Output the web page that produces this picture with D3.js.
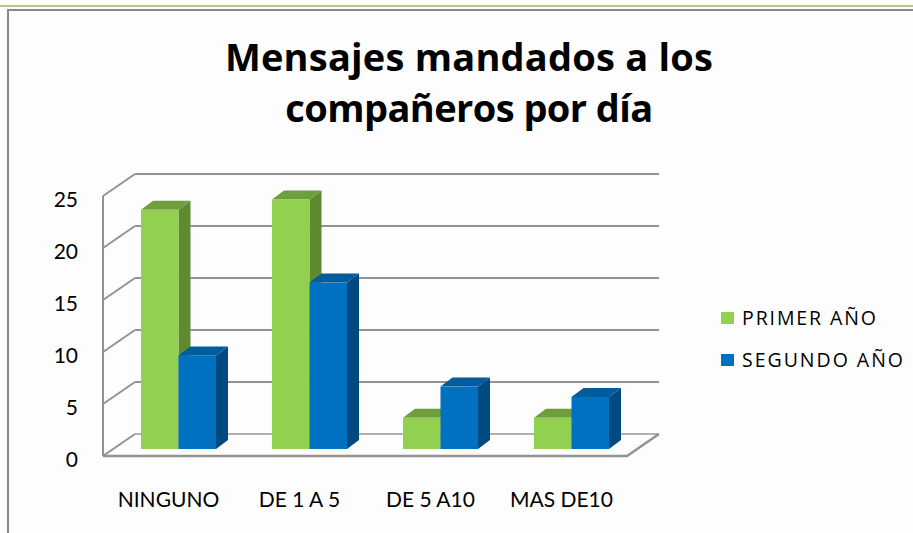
<!DOCTYPE html>
<html>
<head>
<meta charset="utf-8">
<script src="https://cdn.jsdelivr.net/npm/d3@7"></script>
<style>
  body { margin: 0; background: #fdfdfd; }
  svg { display: block; font-family: Lato, "Open Sans", sans-serif; }
</style>
</head>
<body>
<svg id="chart" width="913" height="533"></svg>
<script>
// chart data
const categories = ['NINGUNO', 'DE 1 A 5', 'DE 5 A10', 'MAS DE10'];
const seriesNames = ['PRIMER AÑO', 'SEGUNDO AÑO'];
const primerAnio = [23, 24, 3, 3];
const segundoAnio = [9, 16, 6, 5];
const yTicks = [0, 5, 10, 15, 20, 25];
const titleLines = ['Mensajes mandados a los', 'compañeros por día'];

const colors = [
    { front: '#92d050', side: '#5e8a30', top: '#6f9e3c' },
    { front: '#0070c0', side: '#004a80', top: '#005c9f' }
];

const svg = d3.select('#chart');

// frame lines
svg.append('rect').attr('x', 0).attr('y', 5).attr('width', 913).attr('height', 2).attr('fill', '#b5c98c');
svg.append('rect').attr('x', 7).attr('y', 9).attr('width', 906).attr('height', 2).attr('fill', '#888');
svg.append('rect').attr('x', 7).attr('y', 9).attr('width', 2).attr('height', 524).attr('fill', '#888');

// letter-spacing so a text fills a given width
function fitWidth(sel, target) {
    const node = sel.node();
    const n = sel.text().length;
    const w = node.getComputedTextLength();
    sel.style('letter-spacing', ((target - w) / (n - 1)) + 'px');
}

// title
const titleWidths = [488, 368];
const titleBase = [71, 122];
titleLines.forEach((t, i) => {
    const txt = svg.append('text')
        .attr('x', 469)
        .attr('y', titleBase[i])
        .attr('text-anchor', 'middle')
        .attr('font-family', '"Open Sans", sans-serif')
        .attr('font-size', 38)
        .attr('font-weight', 'bold')
        .attr('fill', '#000')
        .text(t);
    fitWidth(txt, titleWidths[i]);
});

// 3d box: back wall and depth offsets
const back = { left: 135, right: 659 };
const depth = { dx: -32, dy: 22 };        // back wall -> front edge
const barFront = { dx: -22, dy: 15 };      // back wall -> bar front face
const barDepth = { dx: 12, dy: -9 };       // bar front -> bar back

const y = d3.scaleLinear().domain([0, 25]).range([434, 174]);
const x = d3.scaleBand().domain(categories).range([back.left, back.right]);
const xs = d3.scaleBand().domain(seriesNames).range([-37.5, 37.5]);

const grid = svg.append('g').attr('fill', 'none').attr('stroke', '#939393').attr('stroke-width', 2);

yTicks.forEach(v => {
    const yy = y(v);
    // left wall diagonal
    grid.append('line')
        .attr('x1', back.left + depth.dx).attr('y1', yy + depth.dy)
        .attr('x2', back.left).attr('y2', yy);
    // back wall line
    grid.append('line')
        .attr('x1', back.left).attr('y1', yy)
        .attr('x2', back.right).attr('y2', yy)
        .attr('stroke', v === 0 ? '#b0b0b0' : '#939393');
});
// left front edge
grid.append('line')
    .attr('x1', back.left + depth.dx).attr('y1', y(25) + depth.dy)
    .attr('x2', back.left + depth.dx).attr('y2', y(0) + depth.dy);
// floor front + right edge
grid.append('path')
    .attr('d', d3.line()([
        [back.left + depth.dx, y(0) + depth.dy],
        [back.right + depth.dx, y(0) + depth.dy],
        [back.right, y(0)]
    ]))
    .attr('stroke-width', 2.5);

// y labels
svg.append('g').selectAll('text')
    .data(yTicks)
    .join('text')
    .attr('x', 78)
    .attr('y', d => y(d) + depth.dy + 11)
    .attr('text-anchor', 'end')
    .attr('font-size', 21)
    .attr('fill', '#000')
    .text(d => d);

// x labels
svg.append('g').selectAll('text')
    .data(categories)
    .join('text')
    .attr('x', d => x(d) + x.bandwidth() / 2 + depth.dx)
    .attr('y', 507)
    .attr('text-anchor', 'middle')
    .attr('font-size', 21)
    .attr('fill', '#000')
    .text(d => d);

// bars
const seriesValues = [primerAnio, segundoAnio];
const bars = svg.append('g');
categories.forEach((c, ci) => {
    seriesNames.forEach((s, si) => {
        const v = seriesValues[si][ci];
        const cx = x(c) + x.bandwidth() / 2;
        const x0 = cx + xs(s) + barFront.dx;
        const x1 = x0 + xs.bandwidth();
        const yTop = y(v) + barFront.dy;
        const yBot = y(0) + barFront.dy;
        const col = colors[si];
        // side face
        bars.append('path')
            .attr('d', d3.line()([[x1, yTop], [x1 + barDepth.dx, yTop + barDepth.dy],
                [x1 + barDepth.dx, yBot + barDepth.dy], [x1, yBot]]) + 'Z')
            .attr('fill', col.side);
        // top face
        bars.append('path')
            .attr('d', d3.line()([[x0, yTop], [x0 + barDepth.dx, yTop + barDepth.dy],
                [x1 + barDepth.dx, yTop + barDepth.dy], [x1, yTop]]) + 'Z')
            .attr('fill', col.top);
        // front face
        bars.append('rect')
            .attr('x', x0).attr('y', yTop)
            .attr('width', xs.bandwidth()).attr('height', yBot - yTop)
            .attr('fill', col.front);
    });
});

// legend
const legendY = [318, 360];
const legendW = [134, 161];
seriesNames.forEach((s, i) => {
    svg.append('rect')
        .attr('x', 721).attr('y', legendY[i] - 6)
        .attr('width', 13).attr('height', 12)
        .attr('fill', colors[i].front);
    const txt = svg.append('text')
        .attr('x', 742).attr('y', legendY[i] + 7)
        .attr('font-family', '"Open Sans", sans-serif')
        .attr('font-size', 19.5)
        .attr('fill', '#000')
        .text(s);
    fitWidth(txt, legendW[i]);
});
</script>
</body>
</html>
